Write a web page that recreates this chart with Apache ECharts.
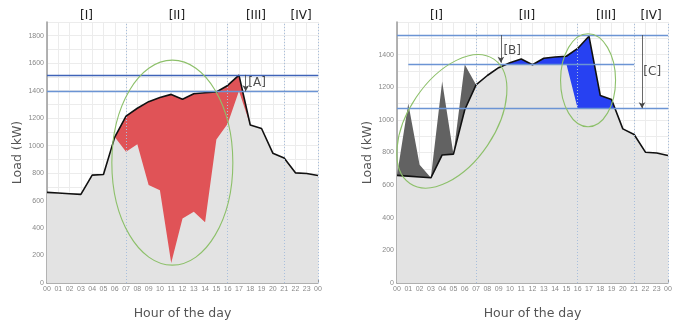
<!DOCTYPE html>
<html>
<head>
<meta charset="utf-8">
<script src="https://cdn.jsdelivr.net/npm/echarts@6/dist/echarts.min.js"></script>
<style>
  html, body { margin: 0; padding: 0; background: #fff; }
  #chart { width: 699px; height: 325px; }
</style>
</head>
<body>
<div id="chart"></div>
<script>
// hour labels 00..23, 00
const hourLabels = ['00','01','02','03','04','05','06','07','08','09','10','11','12',
  '13','14','15','16','17','18','19','20','21','22','23','00']
const hours = [0,1,2,3,4,5,6,7,8,9,10,11,12,13,14,15,16,17,18,19,20,21,22,23,24]

// original load curve (kW)
const load = [660,655,650,645,785,790,1062,1215,1272,1320,1350,1373,1338,1378,1385,1390,1438,1513,1150,1125,945,910,802,797,782]

// left: shifted load (top of the light grey area)
const leftShifted = [660,655,650,645,785,790,1062,955,1010,713,676,146,469,518,442,1044,1160,1398,1150,1125,945,910,802,797,782]

// right: charging spikes (top of the dark grey area), hours 0..7
const rightCharge = [660,1100,725,645,1235,790,1340,1215]
// right: light grey top after peak shaving [hour, kW]
const rightBase = [[0,660],[1,655],[2,650],[3,645],[4,785],[5,790],[6,1062],[7,1215],[8,1272],[9,1320],
  [9.8,1343],[11,1343],[12,1338],[15,1343],[16,1070],[19.3,1070],[20,945],[21,910],[22,802],[23,797],[24,782]]

const phaseBounds = [7, 16, 21, 24]
const phaseNames = ['[I]', '[II]', '[III]', '[IV]']
const phaseMids = [3.5, 11.5, 18.5, 22.5]

const leftYTicks = [0,200,400,600,800,1000,1200,1400,1600,1800]
const rightYTicks = [0,200,400,600,800,1000,1200,1400]

const leftLevels = [1515, 1393]
const rightLevels = [1520, 1343, 1070]

const arrowsLeft = [{ name: '[A]', x: 17.6, from: 1515, to: 1395, lx: 18.6, ly: 1455 }]
const arrowsRight = [
  { name: '[B]', x: 9.2, from: 1520, to: 1350, lx: 10.2, ly: 1425 },
  { name: '[C]', x: 21.7, from: 1520, to: 1072, lx: 22.6, ly: 1293 }
]

// ellipses: centre in data, radii in px, rotation in deg
const ellipsesLeft = [{ cx: 11.1, cy: 876, rx: 60.5, ry: 102.5, rot: 0 }]
const ellipsesRight = [
  { cx: 4.86, cy: 991, rx: 75, ry: 43, rot: 56 },
  { cx: 16.92, cy: 1243, rx: 27.5, ry: 46.5, rot: 0 }
]

const pairs = (ys) => ys.map((v, i) => [hours[i], v])

const gridLine = '#ececec'
const axisGrey = '#9a9a9a'

function xAxisFor(gi) {
  return {
    type: 'value', gridIndex: gi, min: 0, max: 24, interval: 1,
    name: 'Hour of the day', nameLocation: 'middle', nameGap: 24,
    nameTextStyle: { color: '#555', fontSize: 12.5, fontFamily: 'DejaVu Sans' },
    axisLine: { lineStyle: { color: axisGrey, width: 1.5 } },
    axisTick: { inside: true, length: 3, lineStyle: { color: axisGrey } },
    axisLabel: { color: '#888', fontSize: 7, margin: 3, formatter: v => hourLabels[v] },
    splitLine: { show: true, lineStyle: { color: gridLine, width: 1 } }
  }
}
function yAxisFor(gi, max, ticks) {
  return {
    type: 'value', gridIndex: gi, min: 0, max: max, interval: 100,
    name: 'Load (kW)', nameLocation: 'middle', nameGap: 23,
    nameTextStyle: { color: '#555', fontSize: 12.5, fontFamily: 'DejaVu Sans' },
    axisLine: { show: true, lineStyle: { color: axisGrey, width: 1.5 } },
    axisTick: { show: false },
    axisLabel: { color: '#888', fontSize: 7, margin: 3, formatter: v => ticks.includes(v) ? v : '' },
    splitLine: { show: true, lineStyle: { color: gridLine, width: 1 } }
  }
}

function area(gi, data, color) {
  return {
    type: 'line', xAxisIndex: gi, yAxisIndex: gi, data: data, symbol: 'none',
    lineStyle: { width: 0 }, areaStyle: { color: color, opacity: 1 }, silent: true
  }
}

function levelLines(gi, levels, spans, colors) {
  return {
    type: 'line', xAxisIndex: gi, yAxisIndex: gi, data: [], silent: true,
    markLine: {
      symbol: 'none', silent: true, label: { show: false },
      data: levels.map((v, i) => [
        { coord: [spans[i][0], v], lineStyle: { color: colors[i], width: 1.3, type: 'solid' } },
        { coord: [spans[i][1], v] }
      ])
    }
  }
}

function phaseLines(gi, top) {
  return {
    type: 'line', xAxisIndex: gi, yAxisIndex: gi, data: [], silent: true,
    markLine: {
      symbol: 'none', silent: true, label: { show: false },
      lineStyle: { color: '#a9bfdc', width: 1, type: [1, 2] },
      data: phaseBounds.map(x => [{ coord: [x, 0] }, { coord: [x, top] }])
    }
  }
}

function loadLine(gi) {
  return {
    type: 'line', xAxisIndex: gi, yAxisIndex: gi, data: pairs(load), symbol: 'none',
    lineStyle: { color: '#111', width: 1.6 }, silent: true
  }
}

function arrows(gi, list) {
  return [{
    type: 'line', xAxisIndex: gi, yAxisIndex: gi, data: [], silent: true, z: 6,
    markLine: {
      symbol: ['none', 'arrow'], symbolSize: [5, 6], silent: true, label: { show: false },
      lineStyle: { color: '#444', width: 0.8, type: 'solid' },
      data: list.map(a => [{ coord: [a.x, a.from] }, { coord: [a.x, a.to] }])
    }
  }, {
    type: 'scatter', xAxisIndex: gi, yAxisIndex: gi, symbolSize: 0, silent: true, z: 6,
    data: list.map(a => ({ value: [a.lx, a.ly], name: a.name })),
    label: { show: true, position: 'inside', formatter: p => p.name, color: '#222', fontSize: 12, fontFamily: 'DejaVu Sans' }
  }]
}

function ellipses(gi, list) {
  return {
    type: 'custom', xAxisIndex: gi, yAxisIndex: gi, silent: true, z: 6,
    data: list.map(e => [e.cx, e.cy, e.rx, e.ry, e.rot]),
    renderItem: (params, api) => {
      const c = api.coord([api.value(0), api.value(1)])
      return {
        type: 'ellipse', x: c[0], y: c[1], rotation: api.value(4) * Math.PI / 180,
        shape: { cx: 0, cy: 0, rx: api.value(2), ry: api.value(3) },
        style: { fill: 'none', stroke: '#8dc06a', lineWidth: 1.1 }
      }
    }
  }
}

const chart = echarts.init(document.getElementById('chart'), null, { renderer: 'canvas' })

const option = {
  animation: false,
  backgroundColor: '#fff',
  grid: [
    { left: 47, right: 381, top: 22, bottom: 42 },
    { left: 397, right: 31, top: 22, bottom: 42 }
  ],
  xAxis: [xAxisFor(0), xAxisFor(1)],
  yAxis: [yAxisFor(0, 1900, leftYTicks), yAxisFor(1, 1600, rightYTicks)],
  series: [
    // left
    area(0, pairs(load), '#e05357'),
    area(0, pairs(leftShifted), '#e3e3e3'),
    phaseLines(0, 1900),
    levelLines(0, leftLevels, [[0, 24], [0, 24]], ['#3f63b8', '#6b94d4']),
    loadLine(0),
    ellipses(0, ellipsesLeft),
    ...arrows(0, arrowsLeft),
    // right
    area(1, rightCharge.map((v, i) => [hours[i], v]), '#626262'),
    area(1, pairs(load), '#2741f2'),
    area(1, rightBase, '#e3e3e3'),
    phaseLines(1, 1600),
    levelLines(1, rightLevels, [[0, 24], [1, 21], [0, 24]], ['#6b94d4', '#6b94d4', '#6b94d4']),
    loadLine(1),
    ellipses(1, ellipsesRight),
    ...arrows(1, arrowsRight)
  ]
}
chart.setOption(option)

// phase labels above each plot
const texts = []
;[0, 1].forEach(gi => {
  phaseMids.forEach((m, i) => {
    const p = chart.convertToPixel({ gridIndex: gi }, [m, 0])
    texts.push({
      type: 'text', x: p[0], y: 16,
      style: { text: phaseNames[i], fill: '#222', font: '12px DejaVu Sans', align: 'center', verticalAlign: 'middle' }
    })
  })
})
chart.setOption({ graphic: texts })
</script>
</body>
</html>
